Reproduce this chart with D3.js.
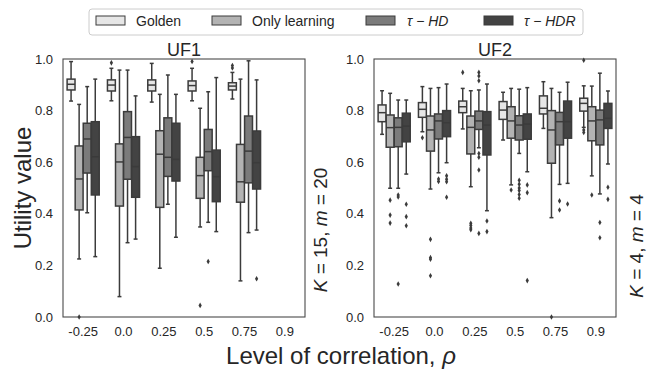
<!DOCTYPE html>
<html>
<head>
<meta charset="utf-8">
<script src="https://cdn.jsdelivr.net/npm/d3@7"></script>
<style>
  html, body { margin: 0; padding: 0; background: #fff; }
  svg { display: block; font-family: "Liberation Sans", Arial, sans-serif; }
</style>
</head>
<body>
<svg id="chart" width="647" height="370"></svg>
<script>
// ---------------- DATA ----------------
const categories = ["-0.25", "0.0", "0.25", "0.5", "0.75", "0.9"];
const seriesNames = ["Golden", "Only learning", "τ − HD", "τ − HDR"];
const yTicks = [0.0, 0.2, 0.4, 0.6, 0.8, 1.0];
const panelTitles = ["UF1", "UF2"];
const rowLabels = ["K = 15, m = 20", "K = 4, m = 4"];

// box stats per category: [whiskerLow, q1, median, q3, whiskerHigh]
const uf1Golden   = [[0.837,0.880,0.902,0.922,0.990],[0.838,0.876,0.899,0.919,0.964],[0.833,0.876,0.899,0.919,0.983],[0.838,0.876,0.897,0.915,0.964],[0.845,0.880,0.895,0.908,0.948], null];
const uf1Learning = [[0.225,0.415,0.535,0.663,0.824],[0.079,0.430,0.601,0.671,0.957],[0.189,0.425,0.631,0.722,0.863],[0.349,0.460,0.548,0.619,0.809],[0.140,0.445,0.524,0.669,0.922], null];
const uf1HD       = [[0.404,0.558,0.690,0.751,0.893],[0.288,0.534,0.696,0.796,0.957],[0.437,0.545,0.619,0.772,0.938],[0.367,0.567,0.641,0.727,0.873],[0.327,0.520,0.643,0.779,0.993], null];
const uf1HDR      = [[0.234,0.473,0.621,0.757,0.922],[0.302,0.464,0.583,0.699,0.857],[0.309,0.527,0.611,0.751,0.863],[0.331,0.447,0.544,0.647,0.928],[0.337,0.496,0.598,0.721,0.919], null];

const uf1GoldenOut   = [[], [0.985], [], [0.990], [0.965,0.975], []];
const uf1LearningOut = [[0.0], [], [], [0.045], [], []];
const uf1HDOut       = [[], [], [], [0.215], [], []];
const uf1HDROut      = [[], [], [], [], [0.148], []];

const uf2Golden   = [[0.708,0.757,0.792,0.822,0.877],[0.718,0.774,0.805,0.831,0.893],[0.729,0.792,0.815,0.837,0.886],[0.686,0.766,0.802,0.835,0.871],[0.731,0.787,0.809,0.857,0.912],[0.735,0.798,0.828,0.848,0.896]];
const uf2Learning = [[0.499,0.658,0.734,0.783,0.867],[0.496,0.643,0.725,0.779,0.886],[0.505,0.632,0.735,0.779,0.877],[0.512,0.693,0.760,0.815,0.886],[0.385,0.596,0.725,0.800,0.886],[0.547,0.683,0.760,0.815,0.895]];
const uf2HD       = [[0.499,0.660,0.735,0.772,0.841],[0.559,0.690,0.760,0.787,0.889],[0.656,0.727,0.760,0.798,0.880],[0.634,0.686,0.744,0.780,0.883],[0.514,0.667,0.757,0.793,0.871],[0.477,0.667,0.764,0.802,0.945]];
const uf2HDR      = [[0.554,0.679,0.740,0.790,0.841],[0.598,0.699,0.753,0.800,0.903],[0.412,0.628,0.744,0.796,0.903],[0.563,0.689,0.748,0.787,0.889],[0.518,0.693,0.757,0.837,0.910],[0.593,0.731,0.770,0.828,0.876]];

const uf2GoldenOut   = [[], [0.695], [0.948], [], [], [0.725,0.715,0.995]];
const uf2LearningOut = [[0.453,0.395,0.364], [0.301,0.230,0.224,0.160], [0.363,0.355,0.345,0.338], [0.492], [0.0], [0.473]];
const uf2HDOut       = [[0.473,0.465,0.128], [0.535,0.525], [0.948,0.934,0.916,0.634,0.619,0.570,0.324], [0.530,0.515,0.500,0.490,0.475,0.460], [0.450,0.415], [0.366,0.307]];
const uf2HDROut      = [[0.437,0.389,0.354], [0.547,0.534,0.524,0.464], [0.372,0.331], [0.512,0.482,0.141], [0.438], [0.503,0.456]];

// ---------------- STYLE ----------------
const fills = ["#e6e6e6", "#b3b3b3", "#7b7b7b", "#434343"];
const lineColor = "#3b3b3b";
const textColor = "#262626";

const panels = [
  { title: panelTitles[0], row: rowLabels[0], x0: 63,  x1: 305,
    boxes: [uf1Golden, uf1Learning, uf1HD, uf1HDR],
    outs:  [uf1GoldenOut, uf1LearningOut, uf1HDOut, uf1HDROut], rowX: 320, rowY: 230 },
  { title: panelTitles[1], row: rowLabels[1], x0: 374, x1: 616,
    boxes: [uf2Golden, uf2Learning, uf2HD, uf2HDR],
    outs:  [uf2GoldenOut, uf2LearningOut, uf2HDOut, uf2HDROut], rowX: 636, rowY: 246 }
];

const yTop = 59, yBottom = 317;
const svg = d3.select("#chart");
const y = d3.scaleLinear().domain([0, 1]).range([yBottom, yTop]);

panels.forEach(p => {
  const g = svg.append("g");
  const x = d3.scaleBand().domain(categories).range([p.x0, p.x1]).padding(0);
  const bw = x.bandwidth();
  const hue = d3.scaleBand().domain(seriesNames).range([0.1 * bw, 0.9 * bw]).padding(0);
  const boxW = hue.bandwidth() * 0.98;
  const capW = boxW * 0.5;

  // axes
  const yAxis = d3.axisLeft(y).tickValues(yTicks).tickFormat(d3.format(".1f")).tickSize(0).tickPadding(10);
  const ya = g.append("g").attr("transform", `translate(${p.x0},0)`).call(yAxis);
  const xAxis = d3.axisBottom(x).tickSize(0).tickPadding(10);
  const xa = g.append("g").attr("transform", `translate(0,${yBottom})`).call(xAxis);
  [ya, xa].forEach(a => {
    a.select(".domain").remove();
    a.selectAll("text").attr("fill", textColor).style("font-size", "13px");
  });

  // frame
  g.append("rect").attr("x", p.x0).attr("y", yTop)
    .attr("width", p.x1 - p.x0).attr("height", yBottom - yTop)
    .attr("fill", "none").attr("stroke", "#4a4a4a").attr("stroke-width", 1.1);

  // boxes
  seriesNames.forEach((s, si) => {
    categories.forEach((c, ci) => {
      const st = p.boxes[si][ci];
      if (!st) return;
      const cx = x(c) + hue(s) + hue.bandwidth() / 2;
      const bg = g.append("g");
      bg.append("line").attr("x1", cx).attr("x2", cx).attr("y1", y(st[0])).attr("y2", y(st[1]))
        .attr("stroke", lineColor).attr("stroke-width", 1.5);
      bg.append("line").attr("x1", cx).attr("x2", cx).attr("y1", y(st[3])).attr("y2", y(st[4]))
        .attr("stroke", lineColor).attr("stroke-width", 1.5);
      [st[0], st[4]].forEach(v => {
        bg.append("line").attr("x1", cx - capW / 2).attr("x2", cx + capW / 2)
          .attr("y1", y(v)).attr("y2", y(v)).attr("stroke", lineColor).attr("stroke-width", 1.5);
      });
      bg.append("rect").attr("x", cx - boxW / 2).attr("width", boxW)
        .attr("y", y(st[3])).attr("height", y(st[1]) - y(st[3]))
        .attr("fill", fills[si]).attr("stroke", lineColor).attr("stroke-width", 1.5);
      bg.append("line").attr("x1", cx - boxW / 2).attr("x2", cx + boxW / 2)
        .attr("y1", y(st[2])).attr("y2", y(st[2])).attr("stroke", lineColor).attr("stroke-width", 1.5);
      p.outs[si][ci].forEach(v => {
        bg.append("path").attr("d", d3.symbol(d3.symbolDiamond, 9)())
          .attr("transform", `translate(${cx},${y(v)})`)
          .attr("fill", lineColor);
      });
    });
  });

  // title
  svg.append("text").attr("x", (p.x0 + p.x1) / 2).attr("y", 56)
    .attr("text-anchor", "middle").attr("fill", textColor).style("font-size", "18px").text(p.title);

  // row label (rotated)
  const parts = p.row.split(/(K|m)/).filter(t => t.length);
  const rt = svg.append("text").attr("transform", `translate(${p.rowX},${p.rowY}) rotate(-90)`)
    .attr("text-anchor", "middle").attr("dominant-baseline", "central")
    .attr("fill", textColor).style("font-size", "19px");
  parts.forEach(t => {
    rt.append("tspan").style("font-style", (t === "K" || t === "m") ? "italic" : "normal").text(t);
  });
});

// axis labels
svg.append("text").attr("transform", "translate(22,188) rotate(-90)")
  .attr("text-anchor", "middle").attr("dominant-baseline", "central")
  .attr("fill", textColor).style("font-size", "24px").text("Utility value");

const xl = svg.append("text").attr("x", 341).attr("y", 364).attr("text-anchor", "middle")
  .attr("fill", textColor).style("font-size", "24px");
xl.append("tspan").text("Level of correlation, ");
xl.append("tspan").style("font-style", "italic").text("ρ");

// legend
const leg = svg.append("g");
leg.append("rect").attr("x", 89).attr("y", 9).attr("width", 494).attr("height", 26)
  .attr("rx", 3).attr("fill", "#fff").attr("stroke", "#cccccc").attr("stroke-width", 1);
const patchX = [96, 212, 366, 484];
const textX = [136, 252, 407, 524];
seriesNames.forEach((s, i) => {
  leg.append("rect").attr("x", patchX[i]).attr("y", 16).attr("width", 29).attr("height", 9)
    .attr("fill", fills[i]).attr("stroke", lineColor).attr("stroke-width", 1);
  const t = leg.append("text").attr("x", textX[i]).attr("y", 26).attr("fill", textColor).style("font-size", "14px");
  if (i < 2) {
    t.text(s);
  } else {
    const segs = s.split(" − ");
    t.append("tspan").style("font-style", "italic").text(segs[0]);
    t.append("tspan").text(" − ");
    t.append("tspan").style("font-style", "italic").text(segs[1]);
  }
});
</script>
</body>
</html>
